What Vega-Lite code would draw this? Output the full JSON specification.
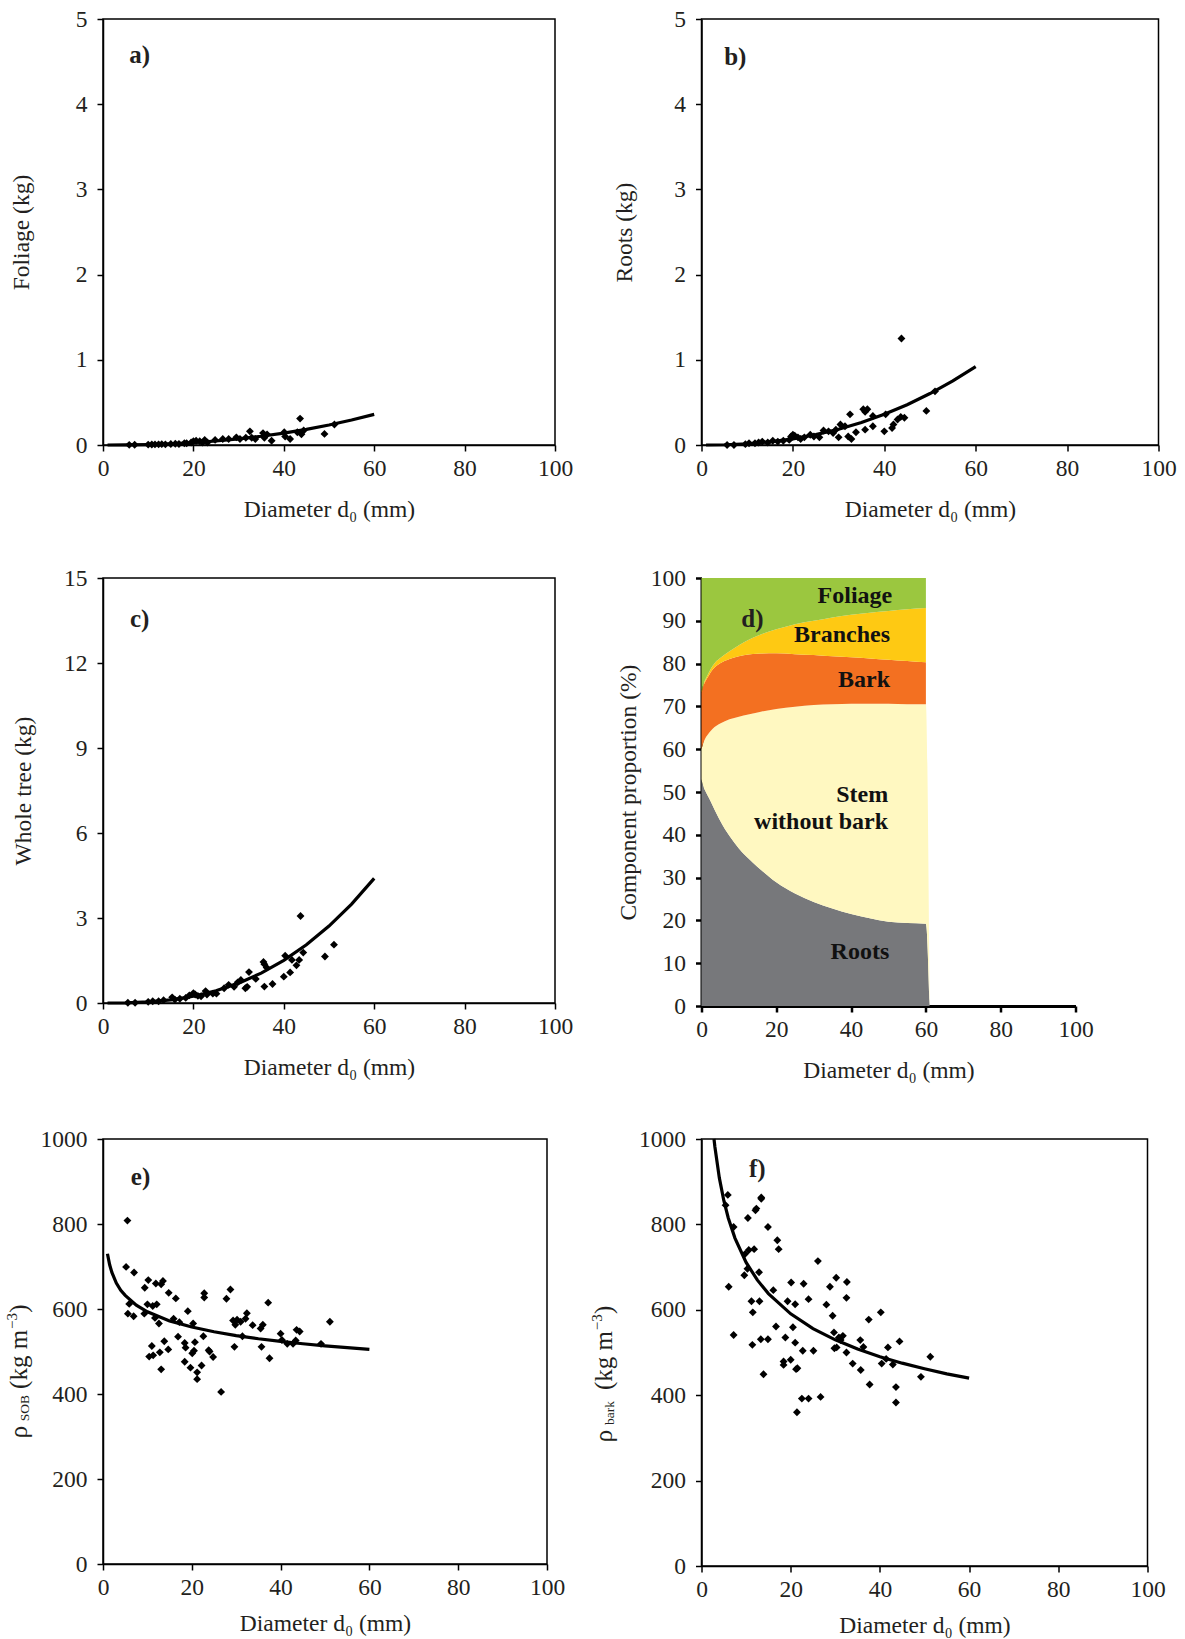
{
  "$schema": "https://vega.github.io/schema/vega-lite/v6.json",
  "padding": {"left": 4, "top": 6, "right": 5, "bottom": 5},
  "bounds": "flush",
  "columns": 2,
  "spacing": {"row": 133, "column": 146.5},
  "config": {
    "font": "Liberation Serif",
    "view": {"stroke": "#000", "strokeWidth": 1.5},
    "axis": {"grid": false, "domainColor": "#000", "domainWidth": 1.5, "tickColor": "#000", "tickWidth": 1.5, "tickSize": 6,
      "labelFont": "Liberation Serif", "labelFontSize": 23.5, "labelColor": "#231F20", "labelFlush": false, "labelOverlap": false,
      "titleFont": "Liberation Serif", "titleFontSize": 23.5, "titleFontWeight": "normal", "titleColor": "#231F20"},
    "axisX": {"labelPadding": 5, "labelAngle": 0, "titleY": 64, "titleBaseline": "middle"},
    "axisY": {"labelPadding": 10, "titleAngle": 270, "titleBaseline": "middle"}
  },
  "datasets": {
    "scA": [{"d":5.8,"v":0.002},{"d":7,"v":0.003},{"d":10,"v":0.005},{"d":10.8,"v":0.006},{"d":11.5,"v":0.007},{"d":12.3,"v":0.008},{"d":13,"v":0.01},{"d":13.8,"v":0.008},{"d":15,"v":0.012},{"d":16,"v":0.014},{"d":16.8,"v":0.012},{"d":18,"v":0.02},{"d":18.5,"v":0.02},{"d":19.5,"v":0.03},{"d":20,"v":0.045},{"d":20.6,"v":0.05},{"d":21.4,"v":0.045},{"d":22,"v":0.03},{"d":22.5,"v":0.06},{"d":23.1,"v":0.03},{"d":24.8,"v":0.06},{"d":26.5,"v":0.07},{"d":27.8,"v":0.07},{"d":29.5,"v":0.09},{"d":30.3,"v":0.07},{"d":31.6,"v":0.085},{"d":32.5,"v":0.16},{"d":32.9,"v":0.085},{"d":33.7,"v":0.07},{"d":35.4,"v":0.14},{"d":35.7,"v":0.085},{"d":36.3,"v":0.125},{"d":37.3,"v":0.05},{"d":40.1,"v":0.15},{"d":40.3,"v":0.1},{"d":41.4,"v":0.07},{"d":43,"v":0.15},{"d":43.6,"v":0.31},{"d":43.9,"v":0.125},{"d":44.4,"v":0.17},{"d":49,"v":0.13},{"d":51.2,"v":0.24}],
    "scB": [{"d":5.6,"v":0.0},{"d":7.1,"v":0.0},{"d":9.6,"v":0.01},{"d":10.4,"v":0.02},{"d":11.7,"v":0.02},{"d":12.5,"v":0.03},{"d":13.3,"v":0.04},{"d":14.5,"v":0.03},{"d":15.6,"v":0.05},{"d":16.7,"v":0.04},{"d":17.9,"v":0.05},{"d":19.2,"v":0.06},{"d":19.6,"v":0.1},{"d":20,"v":0.12},{"d":20.4,"v":0.11},{"d":21.1,"v":0.09},{"d":21.7,"v":0.07},{"d":22.5,"v":0.09},{"d":23.8,"v":0.12},{"d":24.6,"v":0.1},{"d":25.8,"v":0.09},{"d":26.7,"v":0.17},{"d":27.8,"v":0.16},{"d":28.8,"v":0.14},{"d":29.4,"v":0.18},{"d":30,"v":0.09},{"d":30.4,"v":0.24},{"d":31.4,"v":0.22},{"d":32.1,"v":0.1},{"d":32.5,"v":0.36},{"d":32.8,"v":0.07},{"d":33.8,"v":0.15},{"d":35.4,"v":0.42},{"d":35.8,"v":0.39},{"d":36.3,"v":0.42},{"d":35.8,"v":0.18},{"d":37.5,"v":0.34},{"d":37.5,"v":0.22},{"d":40,"v":0.16},{"d":40.3,"v":0.36},{"d":41.7,"v":0.2},{"d":42,"v":0.24},{"d":42.9,"v":0.3},{"d":43.6,"v":0.33},{"d":43.75,"v":1.25},{"d":44.4,"v":0.32},{"d":49.2,"v":0.4},{"d":51.1,"v":0.63}],
    "scC": [{"d":5.5,"v":0.01},{"d":7.1,"v":0.01},{"d":10,"v":0.04},{"d":11,"v":0.06},{"d":12.3,"v":0.06},{"d":13.4,"v":0.1},{"d":15.3,"v":0.2},{"d":15.9,"v":0.12},{"d":17,"v":0.15},{"d":18.3,"v":0.18},{"d":19.1,"v":0.27},{"d":20,"v":0.35},{"d":20.4,"v":0.3},{"d":21,"v":0.25},{"d":21.7,"v":0.24},{"d":22.7,"v":0.42},{"d":23,"v":0.3},{"d":24.3,"v":0.33},{"d":25.1,"v":0.33},{"d":26.8,"v":0.52},{"d":27.8,"v":0.64},{"d":29,"v":0.57},{"d":29.8,"v":0.73},{"d":30.5,"v":0.81},{"d":31.5,"v":0.52},{"d":31.9,"v":0.57},{"d":32.3,"v":1.09},{"d":33.8,"v":0.85},{"d":35.5,"v":1.45},{"d":35.7,"v":1.37},{"d":35.7,"v":0.58},{"d":36.2,"v":1.25},{"d":37.5,"v":0.67},{"d":40,"v":0.93},{"d":40.3,"v":1.67},{"d":41.4,"v":1.08},{"d":41.8,"v":1.52},{"d":42.8,"v":1.33},{"d":43.4,"v":1.52},{"d":43.7,"v":3.07},{"d":44.3,"v":1.78},{"d":49.1,"v":1.64},{"d":51.1,"v":2.06}],
    "scE": [{"d":5.5,"v":808},{"d":5.2,"v":699},{"d":7.0,"v":686},{"d":5.9,"v":612},{"d":5.6,"v":589},{"d":6.9,"v":583},{"d":9.4,"v":650},{"d":10.2,"v":668},{"d":10.0,"v":611},{"d":9.3,"v":589},{"d":11.2,"v":607},{"d":12.1,"v":611},{"d":11.9,"v":660},{"d":13.1,"v":658},{"d":13.5,"v":666},{"d":11.7,"v":579},{"d":12.6,"v":566},{"d":11.0,"v":513},{"d":10.4,"v":488},{"d":11.3,"v":491},{"d":13.8,"v":524},{"d":14.7,"v":505},{"d":12.8,"v":498},{"d":13.1,"v":458},{"d":14.8,"v":638},{"d":15.9,"v":577},{"d":16.4,"v":625},{"d":16.9,"v":535},{"d":17.2,"v":569},{"d":18.4,"v":520},{"d":18.6,"v":509},{"d":18.4,"v":476},{"d":19.1,"v":595},{"d":19.7,"v":462},{"d":20.1,"v":496},{"d":20.5,"v":502},{"d":20.3,"v":566},{"d":20.7,"v":522},{"d":21.2,"v":451},{"d":21.2,"v":435},{"d":22.2,"v":467},{"d":22.6,"v":536},{"d":22.8,"v":637},{"d":22.8,"v":627},{"d":23.8,"v":503},{"d":24.0,"v":500},{"d":24.8,"v":487},{"d":26.6,"v":405},{"d":27.8,"v":624},{"d":28.7,"v":646},{"d":29.3,"v":573},{"d":29.6,"v":511},{"d":29.8,"v":563},{"d":30.2,"v":575},{"d":31.0,"v":570},{"d":31.4,"v":536},{"d":32.1,"v":577},{"d":32.4,"v":590},{"d":33.7,"v":562},{"d":35.5,"v":554},{"d":35.7,"v":511},{"d":36.0,"v":563},{"d":37.2,"v":615},{"d":37.5,"v":484},{"d":40.0,"v":542},{"d":40.3,"v":527},{"d":41.5,"v":518},{"d":42.8,"v":518},{"d":43.4,"v":526},{"d":43.6,"v":551},{"d":44.3,"v":547},{"d":49.1,"v":518},{"d":51.1,"v":570}],
    "scF": [{"d":5.9,"v":869},{"d":5.4,"v":845},{"d":7.2,"v":794},{"d":6.1,"v":654},{"d":7.2,"v":541},{"d":10.4,"v":815},{"d":9.8,"v":731},{"d":10.6,"v":740},{"d":11.8,"v":742},{"d":10.3,"v":696},{"d":9.6,"v":681},{"d":12.9,"v":688},{"d":12.1,"v":833},{"d":12.3,"v":837},{"d":13.4,"v":860},{"d":13.4,"v":863},{"d":11.2,"v":620},{"d":11.5,"v":594},{"d":13.0,"v":620},{"d":11.4,"v":518},{"d":13.3,"v":531},{"d":13.9,"v":449},{"d":14.9,"v":794},{"d":17.0,"v":763},{"d":17.3,"v":742},{"d":16.1,"v":646},{"d":16.7,"v":561},{"d":14.9,"v":531},{"d":18.8,"v":535},{"d":18.4,"v":479},{"d":18.4,"v":471},{"d":19.3,"v":620},{"d":20.0,"v":483},{"d":20.1,"v":664},{"d":20.5,"v":559},{"d":21.0,"v":613},{"d":21.0,"v":523},{"d":21.2,"v":461},{"d":21.5,"v":463},{"d":21.4,"v":360},{"d":22.5,"v":392},{"d":22.7,"v":504},{"d":22.9,"v":661},{"d":24.0,"v":625},{"d":24.0,"v":392},{"d":25.1,"v":504},{"d":26.1,"v":714},{"d":26.7,"v":396},{"d":28.0,"v":612},{"d":28.8,"v":654},{"d":29.4,"v":586},{"d":29.7,"v":547},{"d":29.8,"v":510},{"d":30.2,"v":675},{"d":30.3,"v":512},{"d":30.8,"v":535},{"d":31.2,"v":529},{"d":31.7,"v":539},{"d":32.5,"v":628},{"d":32.6,"v":665},{"d":32.5,"v":500},{"d":33.9,"v":474},{"d":35.6,"v":529},{"d":35.7,"v":459},{"d":36.3,"v":513},{"d":37.5,"v":577},{"d":37.7,"v":425},{"d":40.2,"v":594},{"d":40.4,"v":474},{"d":41.8,"v":512},{"d":41.4,"v":485},{"d":42.9,"v":472},{"d":43.6,"v":419},{"d":43.6,"v":383},{"d":44.4,"v":526},{"d":49.2,"v":443},{"d":51.3,"v":490}],
    "fitA": [{"d":1,"v":0.00003},{"d":5,"v":0.0011},{"d":10,"v":0.0055},{"d":15,"v":0.0142},{"d":20,"v":0.0278},{"d":25,"v":0.0468},{"d":30,"v":0.0716},{"d":35,"v":0.1026},{"d":40,"v":0.14},{"d":45,"v":0.184},{"d":50,"v":0.235},{"d":55,"v":0.294},{"d":60,"v":0.36}],
    "fitB": [{"d":1,"v":0.0001},{"d":5,"v":0.003},{"d":10,"v":0.0147},{"d":15,"v":0.0375},{"d":20,"v":0.0727},{"d":25,"v":0.1217},{"d":30,"v":0.1856},{"d":35,"v":0.265},{"d":40,"v":0.361},{"d":45,"v":0.473},{"d":50,"v":0.604},{"d":55,"v":0.752},{"d":60,"v":0.92}],
    "fitC": [{"d":1,"v":0.0001},{"d":5,"v":0.0061},{"d":10,"v":0.038},{"d":15,"v":0.112},{"d":20,"v":0.239},{"d":25,"v":0.433},{"d":30,"v":0.701},{"d":35,"v":1.055},{"d":40,"v":1.503},{"d":45,"v":2.053},{"d":50,"v":2.714},{"d":55,"v":3.49},{"d":60,"v":4.4}],
    "fitE": [{"d":1,"v":730},{"d":1.5,"v":704},{"d":2,"v":686},{"d":3,"v":661},{"d":4,"v":644},{"d":5,"v":632},{"d":7.5,"v":609},{"d":10,"v":593.5},{"d":15,"v":572},{"d":20,"v":557.5},{"d":25,"v":546.4},{"d":30,"v":537.5},{"d":35,"v":530},{"d":40,"v":523.8},{"d":45,"v":518.3},{"d":50,"v":513.4},{"d":55,"v":509},{"d":60,"v":505}],
    "fitF": [{"d":2.8,"v":1000},{"d":3,"v":982},{"d":4,"v":909},{"d":5,"v":856},{"d":6,"v":815},{"d":7.5,"v":768},{"d":10,"v":711},{"d":12.5,"v":670},{"d":15,"v":638},{"d":20,"v":590.5},{"d":25,"v":556},{"d":30,"v":529.7},{"d":35,"v":508},{"d":40,"v":490},{"d":45,"v":475},{"d":50,"v":462},{"d":55,"v":450},{"d":60,"v":440}],
    "comp": [
      {"c":"Roots","d":0,"lo":0,"hi":53},{"c":"Roots","d":0.25,"lo":0,"hi":52},{"c":"Roots","d":0.5,"lo":0,"hi":51.3},{"c":"Roots","d":1,"lo":0,"hi":50.3},{"c":"Roots","d":2,"lo":0,"hi":48.6},{"c":"Roots","d":3,"lo":0,"hi":46.8},{"c":"Roots","d":4,"lo":0,"hi":45},{"c":"Roots","d":5,"lo":0,"hi":43.3},{"c":"Roots","d":7.5,"lo":0,"hi":39.7},{"c":"Roots","d":10,"lo":0,"hi":36.8},{"c":"Roots","d":12.5,"lo":0,"hi":34.5},{"c":"Roots","d":15,"lo":0,"hi":32.5},{"c":"Roots","d":20,"lo":0,"hi":28.9},{"c":"Roots","d":25,"lo":0,"hi":26.3},{"c":"Roots","d":30,"lo":0,"hi":24.3},{"c":"Roots","d":35,"lo":0,"hi":22.8},{"c":"Roots","d":40,"lo":0,"hi":21.5},{"c":"Roots","d":45,"lo":0,"hi":20.5},{"c":"Roots","d":50,"lo":0,"hi":19.7},{"c":"Roots","d":55,"lo":0,"hi":19.4},{"c":"Roots","d":60,"lo":0,"hi":19.2},{"c":"Roots","d":61,"lo":0,"hi":0},
      {"c":"Stem","d":0,"lo":53,"hi":60},{"c":"Stem","d":0.25,"lo":52,"hi":60.8},{"c":"Stem","d":0.5,"lo":51.3,"hi":61.5},{"c":"Stem","d":1,"lo":50.3,"hi":62.5},{"c":"Stem","d":2,"lo":48.6,"hi":63.8},{"c":"Stem","d":3,"lo":46.8,"hi":64.8},{"c":"Stem","d":4,"lo":45,"hi":65.5},{"c":"Stem","d":5,"lo":43.3,"hi":66},{"c":"Stem","d":7.5,"lo":39.7,"hi":67},{"c":"Stem","d":10,"lo":36.8,"hi":67.6},{"c":"Stem","d":12.5,"lo":34.5,"hi":68.1},{"c":"Stem","d":15,"lo":32.5,"hi":68.6},{"c":"Stem","d":20,"lo":28.9,"hi":69.4},{"c":"Stem","d":25,"lo":26.3,"hi":69.9},{"c":"Stem","d":30,"lo":24.3,"hi":70.3},{"c":"Stem","d":35,"lo":22.8,"hi":70.5},{"c":"Stem","d":40,"lo":21.5,"hi":70.6},{"c":"Stem","d":45,"lo":20.5,"hi":70.6},{"c":"Stem","d":50,"lo":19.7,"hi":70.6},{"c":"Stem","d":55,"lo":19.4,"hi":70.5},{"c":"Stem","d":60,"lo":19.2,"hi":70.5},{"c":"Stem","d":61,"lo":0,"hi":0},
      {"c":"Bark","d":0,"lo":60,"hi":73.2},{"c":"Bark","d":0.25,"lo":60.8,"hi":74},{"c":"Bark","d":0.5,"lo":61.5,"hi":74.8},{"c":"Bark","d":1,"lo":62.5,"hi":75.8},{"c":"Bark","d":2,"lo":63.8,"hi":77.3},{"c":"Bark","d":3,"lo":64.8,"hi":78.6},{"c":"Bark","d":4,"lo":65.5,"hi":79.5},{"c":"Bark","d":5,"lo":66,"hi":80.1},{"c":"Bark","d":7.5,"lo":67,"hi":81.1},{"c":"Bark","d":10,"lo":67.6,"hi":81.7},{"c":"Bark","d":12.5,"lo":68.1,"hi":82.1},{"c":"Bark","d":15,"lo":68.6,"hi":82.3},{"c":"Bark","d":20,"lo":69.4,"hi":82.4},{"c":"Bark","d":25,"lo":69.9,"hi":82.2},{"c":"Bark","d":30,"lo":70.3,"hi":82},{"c":"Bark","d":35,"lo":70.5,"hi":81.7},{"c":"Bark","d":40,"lo":70.6,"hi":81.5},{"c":"Bark","d":45,"lo":70.6,"hi":81.2},{"c":"Bark","d":50,"lo":70.6,"hi":80.9},{"c":"Bark","d":55,"lo":70.5,"hi":80.6},{"c":"Bark","d":60,"lo":70.5,"hi":80.3},
      {"c":"Branches","d":0,"lo":73.2,"hi":73.6},{"c":"Branches","d":0.25,"lo":74,"hi":74.4},{"c":"Branches","d":0.5,"lo":74.8,"hi":75.2},{"c":"Branches","d":1,"lo":75.8,"hi":76.2},{"c":"Branches","d":2,"lo":77.3,"hi":78},{"c":"Branches","d":3,"lo":78.6,"hi":79.5},{"c":"Branches","d":4,"lo":79.5,"hi":80.6},{"c":"Branches","d":5,"lo":80.1,"hi":81.3},{"c":"Branches","d":7.5,"lo":81.1,"hi":82.9},{"c":"Branches","d":10,"lo":81.7,"hi":84.3},{"c":"Branches","d":12.5,"lo":82.1,"hi":85.5},{"c":"Branches","d":15,"lo":82.3,"hi":86.5},{"c":"Branches","d":20,"lo":82.4,"hi":88},{"c":"Branches","d":25,"lo":82.2,"hi":89.2},{"c":"Branches","d":30,"lo":82,"hi":90},{"c":"Branches","d":35,"lo":81.7,"hi":90.8},{"c":"Branches","d":40,"lo":81.5,"hi":91.4},{"c":"Branches","d":45,"lo":81.2,"hi":91.9},{"c":"Branches","d":50,"lo":80.9,"hi":92.3},{"c":"Branches","d":55,"lo":80.6,"hi":92.7},{"c":"Branches","d":60,"lo":80.3,"hi":93},
      {"c":"Foliage","d":0,"lo":73.6,"hi":100},{"c":"Foliage","d":0.25,"lo":74.4,"hi":100},{"c":"Foliage","d":0.5,"lo":75.2,"hi":100},{"c":"Foliage","d":1,"lo":76.2,"hi":100},{"c":"Foliage","d":2,"lo":78,"hi":100},{"c":"Foliage","d":3,"lo":79.5,"hi":100},{"c":"Foliage","d":4,"lo":80.6,"hi":100},{"c":"Foliage","d":5,"lo":81.3,"hi":100},{"c":"Foliage","d":7.5,"lo":82.9,"hi":100},{"c":"Foliage","d":10,"lo":84.3,"hi":100},{"c":"Foliage","d":12.5,"lo":85.5,"hi":100},{"c":"Foliage","d":15,"lo":86.5,"hi":100},{"c":"Foliage","d":20,"lo":88,"hi":100},{"c":"Foliage","d":25,"lo":89.2,"hi":100},{"c":"Foliage","d":30,"lo":90,"hi":100},{"c":"Foliage","d":35,"lo":90.8,"hi":100},{"c":"Foliage","d":40,"lo":91.4,"hi":100},{"c":"Foliage","d":45,"lo":91.9,"hi":100},{"c":"Foliage","d":50,"lo":92.3,"hi":100},{"c":"Foliage","d":55,"lo":92.7,"hi":100},{"c":"Foliage","d":60,"lo":93,"hi":100}
    ],
    "one": [{"k": 1}]
  },
  "concat": [
    {
      "width": 452, "height": 426,
      "layer": [
        {"data": {"name": "scA"}, "mark": {"type": "point", "shape": "diamond", "filled": true, "color": "#000", "size": 62, "opacity": 1},
          "encoding": {
            "x": {"field": "d", "type": "quantitative", "scale": {"domain": [0, 100], "nice": false}, "axis": {"title": "Diameter d₀ (mm)", "values": [0, 20, 40, 60, 80, 100]}},
            "y": {"field": "v", "type": "quantitative", "scale": {"domain": [0, 5], "nice": false}, "axis": {"title": "Foliage (kg)", "values": [0, 1, 2, 3, 4, 5], "format": "d", "titleX": -81.5}}}},
        {"data": {"name": "fitA"}, "mark": {"type": "line", "color": "#000", "strokeWidth": 3.2}, "encoding": {"x": {"field": "d", "type": "quantitative"}, "y": {"field": "v", "type": "quantitative"}}},
        {"data": {"name": "one"}, "mark": {"type": "text", "text": "a)", "fontSize": 25, "fontWeight": "bold", "color": "#231F20", "align": "center", "baseline": "middle"},
          "encoding": {"x": {"datum": 8.1}, "y": {"datum": 4.58}}}
      ]
    },
    {
      "width": 457, "height": 426,
      "layer": [
        {"data": {"name": "scB"}, "mark": {"type": "point", "shape": "diamond", "filled": true, "color": "#000", "size": 62, "opacity": 1},
          "encoding": {
            "x": {"field": "d", "type": "quantitative", "scale": {"domain": [0, 100], "nice": false}, "axis": {"title": "Diameter d₀ (mm)", "values": [0, 20, 40, 60, 80, 100]}},
            "y": {"field": "v", "type": "quantitative", "scale": {"domain": [0, 5], "nice": false}, "axis": {"title": "Roots (kg)", "values": [0, 1, 2, 3, 4, 5], "format": "d", "titleX": -77}}}},
        {"data": {"name": "fitB"}, "mark": {"type": "line", "color": "#000", "strokeWidth": 3.2}, "encoding": {"x": {"field": "d", "type": "quantitative"}, "y": {"field": "v", "type": "quantitative"}}},
        {"data": {"name": "one"}, "mark": {"type": "text", "text": "b)", "fontSize": 25, "fontWeight": "bold", "color": "#231F20", "align": "center", "baseline": "middle"},
          "encoding": {"x": {"datum": 7.4}, "y": {"datum": 4.55}}}
      ]
    },
    {
      "width": 452, "height": 425,
      "layer": [
        {"data": {"name": "scC"}, "mark": {"type": "point", "shape": "diamond", "filled": true, "color": "#000", "size": 62, "opacity": 1},
          "encoding": {
            "x": {"field": "d", "type": "quantitative", "scale": {"domain": [0, 100], "nice": false}, "axis": {"title": "Diameter d₀ (mm)", "values": [0, 20, 40, 60, 80, 100]}},
            "y": {"field": "v", "type": "quantitative", "scale": {"domain": [0, 15], "nice": false}, "axis": {"title": "Whole tree (kg)", "values": [0, 3, 6, 9, 12, 15], "format": "d", "titleX": -79.5}}}},
        {"data": {"name": "fitC"}, "mark": {"type": "line", "color": "#000", "strokeWidth": 3.2}, "encoding": {"x": {"field": "d", "type": "quantitative"}, "y": {"field": "v", "type": "quantitative"}}},
        {"data": {"name": "one"}, "mark": {"type": "text", "text": "c)", "fontSize": 25, "fontWeight": "bold", "color": "#231F20", "align": "center", "baseline": "middle"},
          "encoding": {"x": {"datum": 8.1}, "y": {"datum": 13.57}}}
      ]
    },
    {
      "width": 374, "height": 428,
      "view": {"stroke": null},
      "layer": [
        {"data": {"name": "comp"}, "mark": {"type": "area", "interpolate": "monotone", "opacity": 1},
          "encoding": {
            "x": {"field": "d", "type": "quantitative", "scale": {"domain": [0, 100], "nice": false}, "axis": {"title": "Diameter d₀ (mm)", "values": [0, 20, 40, 60, 80, 100], "domainWidth": 3, "tickWidth": 2.5, "titleY": 64}},
            "y": {"field": "hi", "type": "quantitative", "scale": {"domain": [0, 100], "nice": false}, "axis": {"title": "Component proportion (%)", "values": [0, 10, 20, 30, 40, 50, 60, 70, 80, 90, 100], "format": "d", "domainWidth": 3, "tickWidth": 2.5, "titleX": -73}},
            "y2": {"field": "lo"},
            "color": {"field": "c", "type": "nominal", "legend": null,
              "scale": {"domain": ["Roots", "Stem", "Bark", "Branches", "Foliage"], "range": ["#77787B", "#FFF8C1", "#F37021", "#FEC913", "#9BC73F"]}}}},
        {"data": {"name": "one"}, "mark": {"type": "text", "text": "Foliage", "fontSize": 24, "fontWeight": "bold", "color": "#111", "align": "right", "baseline": "middle"},
          "encoding": {"x": {"datum": 51}, "y": {"datum": 95.8}}},
        {"data": {"name": "one"}, "mark": {"type": "text", "text": "Branches", "fontSize": 24, "fontWeight": "bold", "color": "#111", "align": "right", "baseline": "middle"},
          "encoding": {"x": {"datum": 50.4}, "y": {"datum": 86.6}}},
        {"data": {"name": "one"}, "mark": {"type": "text", "text": "Bark", "fontSize": 24, "fontWeight": "bold", "color": "#111", "align": "right", "baseline": "middle"},
          "encoding": {"x": {"datum": 50.4}, "y": {"datum": 76.1}}},
        {"data": {"name": "one"}, "mark": {"type": "text", "text": ["Stem", "without bark"], "lineHeight": 27, "fontSize": 24, "fontWeight": "bold", "color": "#111", "align": "right", "baseline": "middle"},
          "encoding": {"x": {"datum": 49.9}, "y": {"datum": 49.3}}},
        {"data": {"name": "one"}, "mark": {"type": "text", "text": "Roots", "fontSize": 24, "fontWeight": "bold", "color": "#111", "align": "right", "baseline": "middle"},
          "encoding": {"x": {"datum": 50.2}, "y": {"datum": 12.6}}},
        {"data": {"name": "one"}, "mark": {"type": "text", "text": "d)", "fontSize": 25, "fontWeight": "bold", "color": "#231F20", "align": "center", "baseline": "middle"},
          "encoding": {"x": {"datum": 13.6}, "y": {"datum": 90.5}}}
      ]
    },
    {
      "width": 444, "height": 425,
      "layer": [
        {"data": {"name": "scE"}, "mark": {"type": "point", "shape": "diamond", "filled": true, "color": "#000", "size": 62, "opacity": 1},
          "encoding": {
            "x": {"field": "d", "type": "quantitative", "scale": {"domain": [0, 100], "nice": false}, "axis": {"title": "Diameter d₀ (mm)", "values": [0, 20, 40, 60, 80, 100], "titleY": 59}},
            "y": {"field": "v", "type": "quantitative", "scale": {"domain": [0, 1000], "nice": false}, "axis": {"title": null, "values": [0, 200, 400, 600, 800, 1000], "format": "d"}}}},
        {"data": {"name": "fitE"}, "mark": {"type": "line", "color": "#000", "strokeWidth": 3.2}, "encoding": {"x": {"field": "d", "type": "quantitative"}, "y": {"field": "v", "type": "quantitative"}}},
        {"data": {"name": "one"}, "mark": {"type": "text", "text": "e)", "fontSize": 25, "fontWeight": "bold", "color": "#231F20", "align": "center", "baseline": "middle"},
          "encoding": {"x": {"datum": 8.45}, "y": {"datum": 911}}},
        {"data": {"name": "one"}, "mark": {"type": "text", "text": "ρ", "fontSize": 25, "color": "#231F20", "align": "left", "baseline": "middle", "angle": 270},
          "encoding": {"x": {"datum": -18.9}, "y": {"datum": 296}}},
        {"data": {"name": "one"}, "mark": {"type": "text", "text": "SOB", "fontSize": 13.5, "color": "#231F20", "align": "left", "baseline": "middle", "angle": 270, "dy": 6},
          "encoding": {"x": {"datum": -18.9}, "y": {"datum": 336}}},
        {"data": {"name": "one"}, "mark": {"type": "text", "text": "(kg m", "fontSize": 25, "color": "#231F20", "align": "left", "baseline": "middle", "angle": 270},
          "encoding": {"x": {"datum": -18.9}, "y": {"datum": 412}}},
        {"data": {"name": "one"}, "mark": {"type": "text", "text": "−3", "fontSize": 15, "color": "#231F20", "align": "left", "baseline": "middle", "angle": 270, "dy": -7},
          "encoding": {"x": {"datum": -18.9}, "y": {"datum": 553}}},
        {"data": {"name": "one"}, "mark": {"type": "text", "text": ")", "fontSize": 25, "color": "#231F20", "align": "left", "baseline": "middle", "angle": 270},
          "encoding": {"x": {"datum": -18.9}, "y": {"datum": 591}}}
      ]
    },
    {
      "width": 446, "height": 427,
      "layer": [
        {"data": {"name": "scF"}, "mark": {"type": "point", "shape": "diamond", "filled": true, "color": "#000", "size": 62, "opacity": 1},
          "encoding": {
            "x": {"field": "d", "type": "quantitative", "scale": {"domain": [0, 100], "nice": false}, "axis": {"title": "Diameter d₀ (mm)", "values": [0, 20, 40, 60, 80, 100], "titleY": 59}},
            "y": {"field": "v", "type": "quantitative", "scale": {"domain": [0, 1000], "nice": false}, "axis": {"title": null, "values": [0, 200, 400, 600, 800, 1000], "format": "d"}}}},
        {"data": {"name": "fitF"}, "mark": {"type": "line", "color": "#000", "strokeWidth": 3.2}, "encoding": {"x": {"field": "d", "type": "quantitative"}, "y": {"field": "v", "type": "quantitative"}}},
        {"data": {"name": "one"}, "mark": {"type": "text", "text": "f)", "fontSize": 25, "fontWeight": "bold", "color": "#231F20", "align": "center", "baseline": "middle"},
          "encoding": {"x": {"datum": 12.5}, "y": {"datum": 929}}},
        {"data": {"name": "one"}, "mark": {"type": "text", "text": "ρ", "fontSize": 25, "color": "#231F20", "align": "left", "baseline": "middle", "angle": 270},
          "encoding": {"x": {"datum": -21.8}, "y": {"datum": 290}}},
        {"data": {"name": "one"}, "mark": {"type": "text", "text": "bark", "fontSize": 13.5, "color": "#231F20", "align": "left", "baseline": "middle", "angle": 270, "dy": 6},
          "encoding": {"x": {"datum": -21.8}, "y": {"datum": 330}}},
        {"data": {"name": "one"}, "mark": {"type": "text", "text": "(kg m", "fontSize": 25, "color": "#231F20", "align": "left", "baseline": "middle", "angle": 270},
          "encoding": {"x": {"datum": -21.8}, "y": {"datum": 412}}},
        {"data": {"name": "one"}, "mark": {"type": "text", "text": "−3", "fontSize": 15, "color": "#231F20", "align": "left", "baseline": "middle", "angle": 270, "dy": -7},
          "encoding": {"x": {"datum": -21.8}, "y": {"datum": 552}}},
        {"data": {"name": "one"}, "mark": {"type": "text", "text": ")", "fontSize": 25, "color": "#231F20", "align": "left", "baseline": "middle", "angle": 270},
          "encoding": {"x": {"datum": -21.8}, "y": {"datum": 590}}}
      ]
    }
  ]
}
